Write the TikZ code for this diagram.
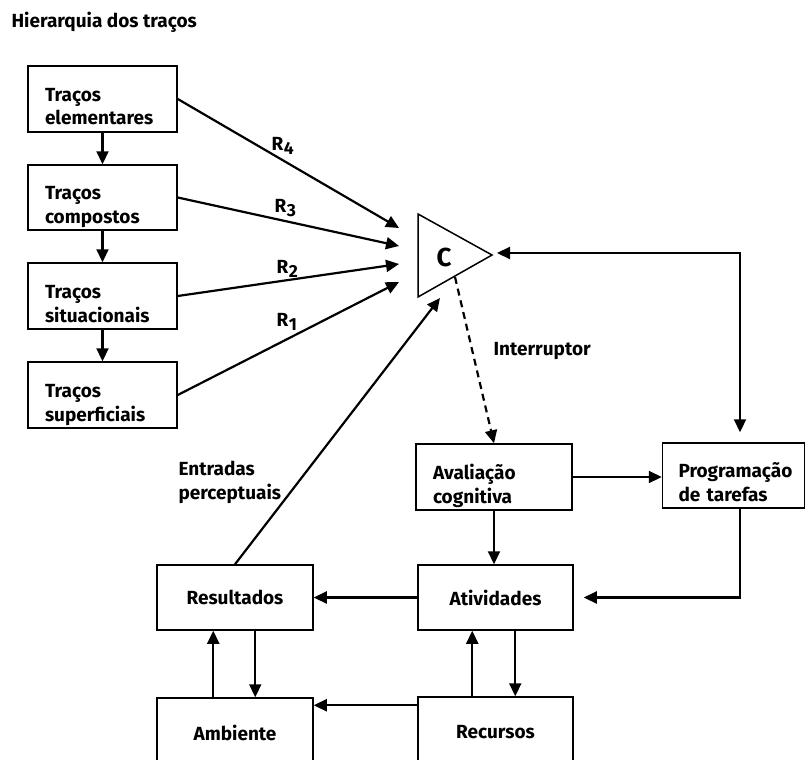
\documentclass[tikz,border=0pt]{standalone}
\usepackage{fontspec}
\setmainfont{Fira Sans}
\usetikzlibrary{arrows.meta,calc}
\begin{document}
\begin{tikzpicture}[x=1pt,y=-1pt,
  every node/.style={font=\fontsize{19}{24}\selectfont\bfseries},
  box/.style={draw, line width=1.5pt, inner sep=0pt},
  tbox/.style={box, align=left, inner xsep=17pt, text width=#1,
    execute at begin node={\noindent\rule{0pt}{33pt}},
    execute at end node={\rule[-5pt]{0pt}{5pt}}},
  cbox/.style={box, align=center},
  tip/.tip={Triangle[length=13pt,width=12pt]},
  arr/.style={line width=2.2pt, -tip},
  lbl/.style={anchor=base west},
]
\useasboundingbox (0,0) rectangle (806,760);
\clip (0,0) rectangle (806,760);

% title
\node[lbl] (title) at (8,28) {Hierarquia dos traços};

% trait hierarchy
\node[tbox=115pt, minimum height=66pt] (b1) at (102.5,99)  {Traços\\elementares};
\node[tbox=115pt, minimum height=65pt] (b2) at (102.5,197.5) {Traços\\compostos};
\node[tbox=115pt, minimum height=66pt] (b3) at (102.5,296) {Traços\\situacionais};
\node[tbox=115pt, minimum height=66pt] (b4) at (102.5,395) {Traços\\superficiais};

\draw[arr] (b1.south) -- (b2.north);
\draw[arr] (b2.south) -- (b3.north);
\draw[arr] (b3.south) -- (b4.north);

% comparator
\coordinate (tl) at (418,214);
\coordinate (bl) at (418,297);
\coordinate (ap) at (492,255);
\draw[line width=1.5pt, line join=miter] (tl) -- (ap) -- (bl) -- cycle;
\node (cmp) at (444,257) {\fontsize{26}{26}\selectfont C};

\coordinate (in4) at (399,228);
\coordinate (in3) at (399,246);
\coordinate (in2) at (399,264);
\coordinate (in1) at (399,282);
\draw[arr] (b1.east) -- (in4);
\draw[arr] (b2.east) -- (in3);
\draw[arr] (b3.east) -- (in2);
\draw[arr] (b4.east) -- (in1);

\newcommand\rlabel[1]{R\kern0.5pt\raisebox{-4pt}{\fontsize{17.5}{17.5}\selectfont #1}}
\node[lbl] (r4) at (268,150) {\rlabel{4}};
\node[lbl] (r3) at (271,212) {\rlabel{3}};
\node[lbl] (r2) at (273,273) {\rlabel{2}};
\node[lbl] (r1) at (273,326) {\rlabel{1}};

% process boxes
\node[tbox=122pt, minimum height=66pt] (aval) at (494,477) {Avaliação\\cognitiva};
\node[tbox=110pt, inner xsep=16pt, minimum height=65pt] (prog) at (733.5,475.5) {Programação\\de tarefas};
\node[cbox, minimum width=156pt, minimum height=65pt] (res) at (235,597.5) {Resultados};
\node[cbox, minimum width=155pt, minimum height=65pt] (act) at (495.5,597.5) {Atividades};
\node[cbox, minimum width=156pt, minimum height=70pt] (amb) at (235,733) {Ambiente};
\node[cbox, minimum width=155pt, minimum height=70pt] (rec) at (495.5,732) {Recursos};

% interruptor
\coordinate (ib) at (455,277);
\draw[arr, dash pattern=on 7pt off 5pt] (ib) -- (aval.north);
\node[lbl] (intr) at (490,355) {Interruptor};

% perceptual inputs
\coordinate (ie) at (440,298);
\draw[arr] (res.north) -- (ie);
\node[anchor=north west, align=left] (entr) at (175,458) {Entradas\\perceptuais};

% feedback loop between comparator and task programming
\coordinate (lp) at (740,253);
\draw[line width=2.2pt, tip-tip, shorten <=5pt, shorten >=10pt]
  (ap |- lp) -- (lp) -- (lp |- prog.north);

\draw[arr] (aval.east) -- (aval.east -| prog.west);
\draw[arr] (aval.south) -- (aval.south |- act.north);
\draw[arr, shorten >=10pt] (lp |- prog.south) -- (lp |- act.east) -- (act.east);
\draw[arr] (act.west) -- (res.east);

\draw[arr] ($(amb.north west)+(57,0)$) -- ($(res.south west)+(57,0)$);
\draw[arr] ($(res.south west)+(99,0)$) -- ($(amb.north west)+(99,0)$);
\draw[arr] ($(rec.north west)+(55,0)$) -- ($(act.south west)+(55,0)$);
\draw[arr] ($(act.south west)+(98,0)$) -- ($(rec.north west)+(98,0)$);
\draw[arr] ($(rec.north west)+(0,9)$) -- ($(amb.north east)+(0,8)$);
\end{tikzpicture}
\end{document}
